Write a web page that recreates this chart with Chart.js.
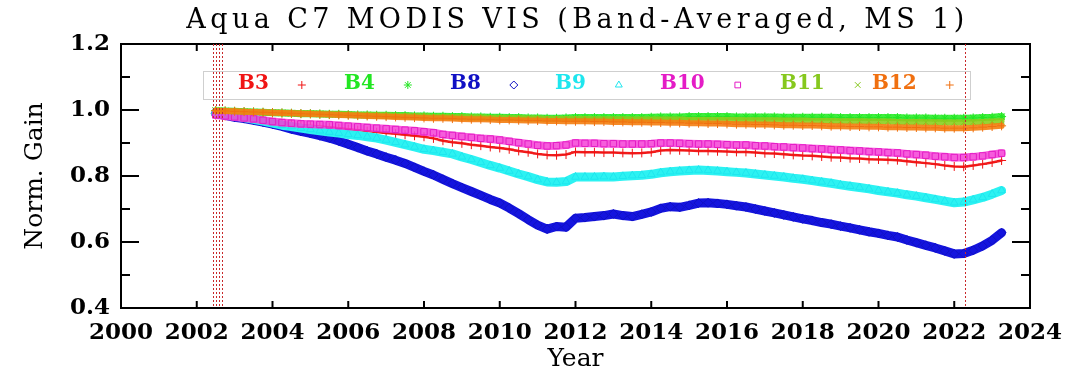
<!DOCTYPE html>
<html>
<head>
<meta charset="utf-8">
<script src="https://cdn.jsdelivr.net/npm/chart.js@4.4.1/dist/chart.umd.min.js"></script>
<style>
  html, body { margin: 0; padding: 0; background: #fff; }
  #wrap { width: 1073px; height: 376px; }
</style>
</head>
<body>
<div id="wrap"><canvas id="gainChart" width="1073" height="376"></canvas></div>
<script>
// Sample epochs (decimal year)
const years = [
  2002.50, 2002.75,
  2003.00, 2003.25, 2003.50, 2003.75,
  2004.00, 2004.25, 2004.50, 2004.75,
  2005.00, 2005.25, 2005.50, 2005.75,
  2006.00, 2006.25, 2006.50, 2006.75,
  2007.00, 2007.25, 2007.50, 2007.75,
  2008.00, 2008.25, 2008.50, 2008.75,
  2009.00, 2009.25, 2009.50, 2009.75,
  2010.00, 2010.25, 2010.50, 2010.75,
  2011.00, 2011.25, 2011.50, 2011.75,
  2012.00, 2012.25, 2012.50, 2012.75,
  2013.00, 2013.25, 2013.50, 2013.75,
  2014.00, 2014.25, 2014.50, 2014.75,
  2015.00, 2015.25, 2015.50, 2015.75,
  2016.00, 2016.25, 2016.50, 2016.75,
  2017.00, 2017.25, 2017.50, 2017.75,
  2018.00, 2018.25, 2018.50, 2018.75,
  2019.00, 2019.25, 2019.50, 2019.75,
  2020.00, 2020.25, 2020.50, 2020.75,
  2021.00, 2021.25, 2021.50, 2021.75,
  2022.00, 2022.25, 2022.50, 2022.75,
  2023.00, 2023.25
];

// Band-averaged normalized gain, one list per band
const gainB3 = [
  0.985, 0.982,
  0.978, 0.975, 0.971, 0.967,
  0.963, 0.960, 0.957, 0.954,
  0.952, 0.950, 0.948, 0.945,
  0.942, 0.939, 0.936, 0.933,
  0.930, 0.928, 0.925, 0.922,
  0.919, 0.914, 0.907, 0.902,
  0.899, 0.895, 0.892, 0.888,
  0.885, 0.881, 0.876, 0.872,
  0.867, 0.864, 0.863, 0.865,
  0.873, 0.872, 0.872, 0.871,
  0.871, 0.870, 0.869, 0.870,
  0.872, 0.877, 0.879, 0.878,
  0.877, 0.876, 0.876, 0.875,
  0.874, 0.873, 0.873, 0.871,
  0.869, 0.868, 0.866, 0.864,
  0.862, 0.861, 0.859, 0.857,
  0.856, 0.854, 0.853, 0.851,
  0.850, 0.849, 0.848, 0.845,
  0.842, 0.839, 0.836, 0.832,
  0.829, 0.828, 0.832, 0.836,
  0.841, 0.847
];

const gainB4 = [
  0.998, 0.997,
  0.996, 0.995, 0.994, 0.993,
  0.992, 0.991, 0.990, 0.989,
  0.989, 0.988, 0.987, 0.987,
  0.986, 0.985, 0.985, 0.984,
  0.984, 0.983, 0.983, 0.982,
  0.982, 0.981, 0.981, 0.980,
  0.980, 0.979, 0.979, 0.978,
  0.978, 0.977, 0.977, 0.976,
  0.976, 0.975, 0.975, 0.976,
  0.977, 0.977, 0.977, 0.977,
  0.977, 0.977, 0.977, 0.977,
  0.978, 0.979, 0.979, 0.979,
  0.980, 0.980, 0.980, 0.980,
  0.980, 0.979, 0.979, 0.979,
  0.979, 0.979, 0.978, 0.978,
  0.978, 0.978, 0.978, 0.978,
  0.977, 0.977, 0.977, 0.977,
  0.977, 0.977, 0.977, 0.976,
  0.976, 0.976, 0.975, 0.975,
  0.975, 0.975, 0.976, 0.977,
  0.978, 0.980
];

const gainB8 = [
  0.990, 0.984,
  0.978, 0.974, 0.969, 0.963,
  0.957, 0.950, 0.942, 0.935,
  0.929, 0.922, 0.915, 0.906,
  0.896, 0.886, 0.876, 0.867,
  0.857, 0.848, 0.838, 0.826,
  0.814, 0.803, 0.790, 0.777,
  0.765, 0.753, 0.741, 0.729,
  0.718, 0.703, 0.686, 0.668,
  0.651, 0.639, 0.647, 0.645,
  0.672, 0.674, 0.677, 0.680,
  0.685, 0.680, 0.677, 0.684,
  0.691, 0.702, 0.707, 0.705,
  0.711, 0.718, 0.719, 0.717,
  0.714, 0.710, 0.706, 0.700,
  0.694, 0.688, 0.682, 0.676,
  0.670, 0.665, 0.659, 0.654,
  0.648, 0.643, 0.637, 0.631,
  0.626, 0.620, 0.615, 0.606,
  0.598, 0.590, 0.582, 0.573,
  0.564, 0.565, 0.575, 0.588,
  0.605, 0.628
];

const gainB9 = [
  0.990, 0.986,
  0.982, 0.977, 0.972, 0.966,
  0.960, 0.954, 0.950, 0.945,
  0.941, 0.937, 0.933, 0.930,
  0.926, 0.923, 0.919, 0.915,
  0.909, 0.902, 0.895, 0.888,
  0.881, 0.877, 0.872, 0.867,
  0.858, 0.850, 0.841, 0.832,
  0.824, 0.815, 0.806, 0.798,
  0.789, 0.782, 0.781, 0.783,
  0.797, 0.797, 0.797, 0.798,
  0.797, 0.799, 0.801, 0.802,
  0.805, 0.810, 0.813, 0.815,
  0.817, 0.818, 0.817, 0.815,
  0.813, 0.811, 0.809, 0.806,
  0.803, 0.800, 0.797, 0.793,
  0.790, 0.786, 0.782, 0.778,
  0.773, 0.769, 0.765, 0.761,
  0.756, 0.752, 0.748, 0.743,
  0.739, 0.734, 0.729, 0.724,
  0.719, 0.721, 0.728, 0.735,
  0.745, 0.756
];

const gainB10 = [
  0.985, 0.982,
  0.979, 0.976, 0.973, 0.969,
  0.965, 0.962, 0.960, 0.958,
  0.957, 0.956, 0.955, 0.953,
  0.951, 0.949, 0.947, 0.945,
  0.943, 0.941, 0.939, 0.937,
  0.934, 0.931, 0.926, 0.923,
  0.920, 0.917, 0.914, 0.912,
  0.909, 0.905, 0.901, 0.897,
  0.893, 0.891, 0.892, 0.894,
  0.900, 0.899, 0.899, 0.898,
  0.898, 0.897, 0.897, 0.897,
  0.898, 0.900, 0.900, 0.899,
  0.898, 0.897, 0.897, 0.896,
  0.895, 0.894, 0.894, 0.892,
  0.891, 0.889, 0.888, 0.886,
  0.885, 0.883, 0.882, 0.880,
  0.879, 0.877, 0.876, 0.874,
  0.873, 0.871, 0.870, 0.867,
  0.865, 0.863, 0.860, 0.858,
  0.856, 0.856, 0.858, 0.861,
  0.865, 0.869
];

const gainB11 = [
  0.998, 0.997,
  0.996, 0.995, 0.994, 0.993,
  0.993, 0.992, 0.991, 0.990,
  0.990, 0.989, 0.988, 0.987,
  0.986, 0.985, 0.985, 0.984,
  0.983, 0.982, 0.982, 0.981,
  0.980, 0.979, 0.979, 0.978,
  0.978, 0.977, 0.977, 0.976,
  0.976, 0.975, 0.975, 0.974,
  0.974, 0.973, 0.973, 0.973,
  0.973, 0.973, 0.972, 0.972,
  0.972, 0.972, 0.971, 0.971,
  0.971, 0.971, 0.971, 0.971,
  0.970, 0.970, 0.970, 0.970,
  0.970, 0.970, 0.969, 0.969,
  0.969, 0.969, 0.968, 0.968,
  0.968, 0.967, 0.967, 0.967,
  0.966, 0.966, 0.966, 0.965,
  0.965, 0.965, 0.964, 0.964,
  0.964, 0.963, 0.963, 0.962,
  0.962, 0.962, 0.963, 0.964,
  0.965, 0.966
];

const gainB12 = [
  0.998, 0.997,
  0.996, 0.995, 0.994, 0.993,
  0.992, 0.991, 0.990, 0.989,
  0.988, 0.987, 0.986, 0.985,
  0.984, 0.983, 0.982, 0.981,
  0.980, 0.979, 0.978, 0.977,
  0.976, 0.975, 0.975, 0.974,
  0.973, 0.972, 0.972, 0.971,
  0.970, 0.970, 0.969, 0.968,
  0.968, 0.967, 0.967, 0.966,
  0.966, 0.966, 0.965, 0.965,
  0.964, 0.964, 0.963, 0.963,
  0.962, 0.962, 0.961, 0.961,
  0.960, 0.960, 0.959, 0.959,
  0.958, 0.957, 0.957, 0.956,
  0.956, 0.955, 0.954, 0.954,
  0.953, 0.953, 0.952, 0.951,
  0.951, 0.950, 0.950, 0.949,
  0.949, 0.948, 0.948, 0.947,
  0.947, 0.946, 0.946, 0.945,
  0.945, 0.945, 0.946, 0.948,
  0.950, 0.952
];

const bandNames = ['B3', 'B4', 'B8', 'B9', 'B10', 'B11', 'B12'];
const bandGains = [gainB3, gainB4, gainB8, gainB9, gainB10, gainB11, gainB12];

// Axis tick values
const xTickYears = [2000, 2002, 2004, 2006, 2008, 2010, 2012, 2014, 2016, 2018, 2020, 2022, 2024];
const yTickValues = [0.4, 0.6, 0.8, 1.0, 1.2];

// Event epochs marked with dotted verticals
const eventYears = [2002.42, 2002.50, 2002.58, 2002.66, 2022.29];

const SERIF = "'DejaVu Serif', 'Liberation Serif', serif";

// Per-band drawing style
const bandStyle = {
  B3:  { color: '#f01414', band: 'rgba(240,20,20,0.95)',  width: 2.5, marker: 'cross',    radius: 4.5 },
  B4:  { color: '#22e622', band: 'rgba(40,236,40,0.9)',   width: 7,   marker: 'star',     radius: 4.5 },
  B8:  { color: '#1010c4', band: 'rgba(20,20,222,1)',     width: 9,   marker: 'rectRot',  radius: 4.5 },
  B9:  { color: '#1ee6ee', band: 'rgba(44,242,242,1)',    width: 9,   marker: 'triangle', radius: 4.5 },
  B10: { color: '#e41cc6', band: 'rgba(244,64,214,0.85)', width: 8,   marker: 'rect',     radius: 4.5 },
  B11: { color: '#86c81e', band: 'rgba(140,206,30,0.9)',  width: 6,   marker: 'crossRot', radius: 4.5 },
  B12: { color: '#f07010', band: 'rgba(244,128,20,0.92)', width: 6,   marker: 'cross',    radius: 4.5 }
};

const datasets = bandNames.map((name, i) => {
  const s = bandStyle[name];
  return {
    label: name,
    data: years.map((yr, k) => ({ x: yr, y: bandGains[i][k] })),
    showLine: true,
    borderColor: s.band,
    borderWidth: s.width,
    borderJoinStyle: 'round',
    borderCapStyle: 'round',
    tension: 0,
    pointStyle: s.marker,
    pointRadius: s.radius,
    pointBorderWidth: 1,
    pointBorderColor: s.color,
    pointBackgroundColor: 'rgba(0,0,0,0)',
    order: bandNames.length - i
  };
});

// Centered title over the plotting area
const plotTitle = {
  id: 'plotTitle',
  afterDraw(chart, args, opts) {
    const { ctx, chartArea: a } = chart;
    ctx.save();
    ctx.font = `normal 27px ${SERIF}`;
    ctx.letterSpacing = '4.4px';
    ctx.fillStyle = '#000';
    ctx.textAlign = 'center';
    ctx.textBaseline = 'middle';
    ctx.fillText(opts.text, (a.left + a.right) / 2 + 2, 21);
    ctx.restore();
  }
};

// Boxed legend: label text followed by its marker
const bandLegend = {
  id: 'bandLegend',
  afterDatasetsDraw(chart) {
    const { ctx, chartArea: a } = chart;
    const textX = [117, 223, 329, 434, 539, 659, 751];
    const top = a.top + 27, bottom = a.top + 55, midY = (top + bottom) / 2;
    ctx.save();
    ctx.fillStyle = '#fff';
    ctx.fillRect(a.left + 82, top, 767, bottom - top);
    ctx.strokeStyle = '#cfcfcf';
    ctx.lineWidth = 1;
    ctx.strokeRect(a.left + 82.5, top + 0.5, 767, bottom - top);
    ctx.font = `bold 20px ${SERIF}`;
    ctx.textBaseline = 'middle';
    ctx.textAlign = 'left';
    chart.data.datasets.forEach((ds, i) => {
      const s = bandStyle[ds.label];
      const tx = a.left + textX[i];
      ctx.fillStyle = s.color;
      ctx.fillText(ds.label, tx, midY - 1);
      const mx = tx + ctx.measureText(ds.label).width + 33;
      ctx.strokeStyle = s.color;
      ctx.fillStyle = 'rgba(0,0,0,0)';
      Chart.helpers.drawPoint(ctx, { pointStyle: s.marker, radius: 4, borderWidth: 1, rotation: 0 }, mx, midY);
    });
    ctx.restore();
  }
};

// Dotted red verticals at event epochs
const eventLines = {
  id: 'eventLines',
  afterDatasetsDraw(chart) {
    const { ctx, chartArea: a, scales } = chart;
    ctx.save();
    ctx.strokeStyle = '#c8282a';
    ctx.lineWidth = 1;
    ctx.setLineDash([2, 2]);
    eventYears.forEach(v => {
      const x = Math.round(scales.x.getPixelForValue(v)) + 0.5;
      ctx.beginPath();
      ctx.moveTo(x, a.top);
      ctx.lineTo(x, a.bottom);
      ctx.stroke();
    });
    ctx.restore();
  }
};

// Inward-pointing ticks on all four sides of the frame
const inwardTicks = {
  id: 'inwardTicks',
  afterDraw(chart) {
    const { ctx, chartArea: a, scales } = chart;
    const seg = (x1, y1, x2, y2) => { ctx.beginPath(); ctx.moveTo(x1, y1); ctx.lineTo(x2, y2); ctx.stroke(); };
    ctx.save();
    ctx.strokeStyle = '#000';
    ctx.lineWidth = 2;
    yTickValues.forEach((v, i) => {
      const y = scales.y.getPixelForValue(v);
      seg(a.left, y, a.left + 18, y);
      seg(a.right, y, a.right - 18, y);
      if (i < yTickValues.length - 1) {
        const ym = scales.y.getPixelForValue((v + yTickValues[i + 1]) / 2);
        seg(a.left, ym, a.left + 9, ym);
        seg(a.right, ym, a.right - 9, ym);
      }
    });
    xTickYears.forEach(v => {
      const x = scales.x.getPixelForValue(v);
      seg(x, a.bottom, x, a.bottom - 7);
      seg(x, a.top, x, a.top + 7);
    });
    ctx.restore();
  }
};

const frameBorder = { display: true, color: '#000', width: 2 };
const noGrid = { display: false, drawTicks: false };

new Chart(document.getElementById('gainChart'), {
  type: 'scatter',
  data: { datasets },
  plugins: [bandLegend, eventLines, inwardTicks, plotTitle],
  options: {
    responsive: false,
    animation: false,
    devicePixelRatio: 1,
    layout: { padding: 0 },
    plugins: {
      legend: { display: false },
      tooltip: { enabled: false },
      plotTitle: { text: 'Aqua C7 MODIS VIS (Band-Averaged, MS 1)' }
    },
    scales: {
      x: {
        type: 'linear', position: 'bottom', min: 2000, max: 2024,
        afterBuildTicks: s => { s.ticks = xTickYears.map(v => ({ value: v })); },
        ticks: {
          color: '#000', padding: 11, maxRotation: 0, autoSkip: false,
          font: { family: SERIF, size: 23, weight: 'bold' },
          callback: v => String(v)
        },
        grid: noGrid, border: frameBorder,
        title: { display: true, text: 'Year', color: '#000', font: { family: SERIF, size: 25 }, padding: { top: 0, bottom: 2 } },
        afterFit: s => { s.height = 68; }
      },
      y: {
        type: 'linear', position: 'left', min: 0.4, max: 1.2,
        afterBuildTicks: s => { s.ticks = yTickValues.map(v => ({ value: v })); },
        ticks: {
          color: '#000', padding: 11,
          font: { family: SERIF, size: 23, weight: 'bold' },
          callback: v => Number(v).toFixed(1)
        },
        grid: noGrid, border: frameBorder,
        title: { display: true, text: 'Norm. Gain', color: '#000', font: { family: SERIF, size: 25 }, padding: { top: 20, bottom: 0 } },
        afterFit: s => { s.width = 121; }
      },
      x2: {
        type: 'linear', position: 'top', min: 2000, max: 2024,
        ticks: { display: false }, grid: noGrid, border: frameBorder,
        afterFit: s => { s.height = 44; }
      },
      y2: {
        type: 'linear', position: 'right', min: 0.4, max: 1.2,
        ticks: { display: false }, grid: noGrid, border: frameBorder,
        afterFit: s => { s.width = 39; }
      }
    }
  }
});
</script>
</body>
</html>
